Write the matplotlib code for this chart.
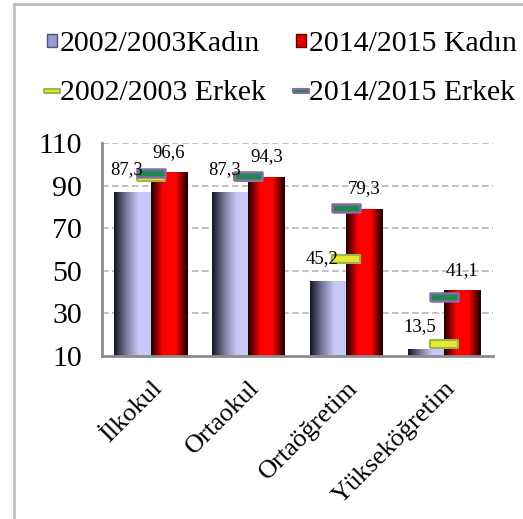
import numpy as np
import matplotlib.pyplot as plt
from matplotlib.lines import Line2D
from matplotlib.patches import Patch
from matplotlib.colors import LinearSegmentedColormap

# veriler
kategoriler = ['İlkokul', 'Ortaokul', 'Ortaöğretim', 'Yükseköğretim']
kadin_2002 = [87.3, 87.3, 45.2, 13.5]
kadin_2014 = [96.6, 94.3, 79.3, 41.1]
erkek_2002 = [94.2, 94.0, 55.4, 15.5]
erkek_2014 = [96.1, 94.4, 79.4, 37.8]
y_ticks = [10, 30, 50, 70, 90, 110]

plt.rcParams['font.family'] = ['Liberation Serif', 'DejaVu Serif']

fig = plt.figure(figsize=(5.23, 5.19), dpi=100)
ax = fig.add_axes([0.1945, 0.314, 0.748, 0.41])

x = np.arange(len(kategoriler))
w = 0.373

lavanta = LinearSegmentedColormap.from_list('lav', ['#15152a', '#7a7a9c', '#c8c8f8', '#c8c8f8'])
kirmizi = LinearSegmentedColormap.from_list('kir', ['#200000', '#ff0000', '#ff0000', '#1a0000'])

b1 = ax.bar(x - w / 2, kadin_2002, w, bottom=0, color='#c8c8f8', zorder=2)
b2 = ax.bar(x + w / 2, kadin_2014, w, bottom=0, color='#ff0000', zorder=2)

# bar gradyanları
grad = np.linspace(0, 1, 64).reshape(1, -1)
for bars, cmap in ((b1, lavanta), (b2, kirmizi)):
    for b in bars:
        x0, y0 = b.get_x(), 10
        img = ax.imshow(grad, cmap=cmap, aspect='auto', zorder=2.5,
                        extent=(x0, x0 + b.get_width(), y0, b.get_height()))
        img.set_clip_path(b)

# Erkek işaretleri
rect = [(-1, -0.28), (1, -0.28), (1, 0.28), (-1, 0.28), (-1, -0.28)]
ax.plot(x, erkek_2002, ls='none', marker=rect, ms=19.5, mfc='#e8e830',
        mec='#98b848', mew=1.5, zorder=4)
ax.plot(x, erkek_2014, ls='none', marker=rect, ms=19.5, mfc='#1e8a50',
        mec='#8a6aaa', mew=1.8, zorder=4)

for i in range(len(x)):
    ax.annotate(f'{kadin_2002[i]:.1f}'.replace('.', ','), (x[i] - w / 2, kadin_2002[i]),
                xytext=(-4, 10), textcoords='offset points', ha='center',
                va='bottom', fontsize=13.5, zorder=5)
    ax.annotate(f'{kadin_2014[i]:.1f}'.replace('.', ','), (x[i] + w / 2, kadin_2014[i]),
                xytext=(0, 8), textcoords='offset points', ha='center',
                va='bottom', fontsize=13.5, zorder=5)

ax.set_xlim(-0.5, 3.5)
ax.set_ylim(10, 110)
ax.set_yticks(y_ticks)
ax.set_yticklabels([str(t) for t in y_ticks], fontsize=21.5)
ax.set_xticks(x)
ax.set_xticklabels(kategoriler, rotation=45, ha='right', rotation_mode='anchor',
                   fontsize=19)
ax.tick_params(axis='y', length=0, pad=14)
ax.tick_params(axis='x', length=0, pad=15)
for t in y_ticks[1:]:
    ax.axhline(t, color='#b8b8b8', lw=1.2, ls=(0, (4, 2)), zorder=1)
for s in ('top', 'right'):
    ax.spines[s].set_visible(False)
for s in ('left', 'bottom'):
    ax.spines[s].set_color('#8c8c8c')
    ax.spines[s].set_linewidth(2)

# lejant
handles = [
    Patch(facecolor='#9a9ad0', edgecolor='#50507a'),
    Patch(facecolor='#e00000', edgecolor='#600000'),
    Line2D([], [], ls='none', marker=rect, ms=11, mfc='#e8e830', mec='#98b848', mew=1.5),
    Line2D([], [], ls='none', marker=rect, ms=11, mfc='#1e8a50', mec='#8a6aaa', mew=1.5),
]
labels = ['2002/2003Kadın', '2014/2015 Kadın', '2002/2003 Erkek', '2014/2015 Erkek']
order = [0, 2, 1, 3]
fig.legend([handles[i] for i in order], [labels[i] for i in order], ncol=2,
           loc='upper left', bbox_to_anchor=(0.09, 0.94), frameon=False,
           fontsize=21.5, handlelength=0.33, handleheight=0.33, handletextpad=0.1,
           columnspacing=1.02, labelspacing=0.75, borderpad=0, borderaxespad=0)

# çerçeve
fig.add_artist(Line2D([14 / 523, 14 / 523], [0, 1 - 4 / 519], color='#c0c0c0', lw=2))
fig.add_artist(Line2D([14 / 523, 1], [1 - 4 / 519, 1 - 4 / 519], color='#c0c0c0', lw=2))

fig.savefig('out.png', dpi=100)
